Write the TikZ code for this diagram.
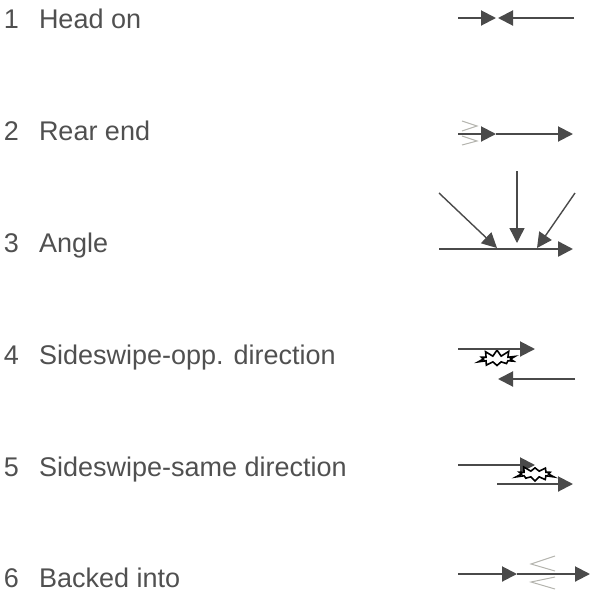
\documentclass[tikz,border=0pt]{standalone}
\usepackage{fontspec}
\usepackage{xcolor}
\usepackage{tikz}
\usetikzlibrary{arrows.meta}
\usetikzlibrary{shapes.symbols}
\setmainfont{Liberation Sans}

\definecolor{labelgray}{HTML}{505050}
\definecolor{arrowgray}{HTML}{4A4A4A}
\definecolor{motiongray}{HTML}{B4B4AE}

\begin{document}
\begin{tikzpicture}[
    x=1pt, y=-1pt,
    >={Triangle[length=15pt, width=15pt]},
    line width=2pt,
    vehicle/.style={->, draw=arrowgray},
    approach/.style={->, draw=arrowgray, line width=1.4pt},
    motion/.style={draw=motiongray, line width=1pt},
    crash/.style={starburst, draw=black, fill=white, line width=1.6pt,
        minimum width=41pt, minimum height=20pt, inner sep=0pt,
        starburst points=10, starburst point height=7pt},
    num/.style={anchor=base west, inner sep=0pt, text=labelgray,
        font=\fontsize{27}{32}\selectfont},
    caption/.style={num}
]

\useasboundingbox (0,0) rectangle (592,590);

%-------------------------
% Labels
%-------------------------
\node[num] (n1) at (3,28) {1};
\node[caption] (t1) at (38,28) {Head on};
\node[num] (n2) at (3,140) {2};
\node[caption] (t2) at (38,140) {Rear end};
\node[num] (n3) at (3,252) {3};
\node[caption] (t3) at (38,252) {Angle};
\node[num] (n4) at (3,364) {4};
\node[caption] (t4) at (38,364) {Sideswipe-opp. direction};
\node[num] (n5) at (3,476) {5};
\node[caption] (t5) at (38,476) {Sideswipe-same direction};
\node[num] (n6) at (3,587) {6};
\node[caption] (t6) at (38,587) {Backed into};


%-------------------------
% 1 Head on
%-------------------------
\coordinate (h1) at (458,18);
\coordinate (h2) at (496,18);
\coordinate (h3) at (498,18);
\coordinate (h4) at (574,18);

\draw[vehicle] (h1) -- (h2);
\draw[vehicle] (h4) -- (h3);


%-------------------------
% 2 Rear end
%-------------------------
\coordinate (r1) at (458,134);
\coordinate (r2) at (496,134);
\coordinate (r3) at (573,134);

% motion marks behind the rear car
\draw[motion] (462,121) -- (477,126) -- (462,131);
\draw[motion] (462,136) -- (477,141) -- (462,145);

\draw[vehicle] (r1) -- (r2);
\draw[vehicle] (r2) -- (r3);


%-------------------------
% 3 Angle
%-------------------------
\coordinate (a1) at (439,249);
\coordinate (a2) at (573,249);

\draw[vehicle, line width=2.6pt] (a1) -- (a2);

\draw[approach] (439,193) -- (497,248);
\draw[approach] (517,171) -- (517,243);
\draw[approach] (575,193) -- (537,248);


%-------------------------
% 4 Sideswipe, opposite direction
%-------------------------
\node[crash, random starburst=4] (c4) at (497,359) {};

\draw[vehicle] (458,349) -- (535,349);
\draw[vehicle] (575,379) -- (498,379);


%-------------------------
% 5 Sideswipe, same direction
%-------------------------
\draw[vehicle] (458,465) -- (535,465);

\node[crash, random starburst=9] (c5) at (535,474) {};

\draw[vehicle] (497,484) -- (573,484);


%-------------------------
% 6 Backed into
%-------------------------
\coordinate (b1) at (458,574);
\coordinate (b2) at (517,574);
\coordinate (b3) at (590,574);

\draw[vehicle] (b1) -- (b2);
\draw[vehicle] (b2) -- (b3);

% motion marks of the reversing car
\draw[motion] (555,556) -- (531,564) -- (555,571);
\draw[motion] (555,577) -- (531,582) -- (555,589);
\end{tikzpicture}
\end{document}
